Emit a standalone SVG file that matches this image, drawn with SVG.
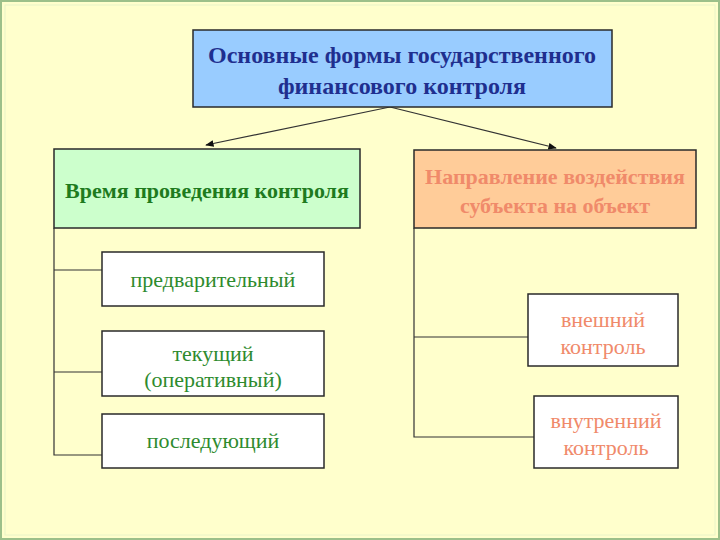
<svg xmlns="http://www.w3.org/2000/svg" width="720" height="540" viewBox="0 0 720 540">
<defs>
<style>
.t{font-family:"Liberation Serif","Times New Roman",serif;text-anchor:middle}
.box{stroke:#2a2a2a;stroke-width:1.5}
.ln{stroke:#333;stroke-width:1.2;fill:none}
.g{fill:#2E8B2E;font-size:22px}
.o{fill:#F08A6A;font-size:22px}
</style>
<marker id="ah" viewBox="0 0 10 10" refX="9" refY="5" markerWidth="7" markerHeight="7" orient="auto"><path d="M0,1 L10,5 L0,9 z" fill="#111"/></marker>
</defs>
<rect x="0" y="0" width="720" height="540" fill="#FFFFCC"/>
<rect x="1" y="1" width="718" height="538" fill="none" stroke="#9CC08A" stroke-width="2"/>
<rect x="5" y="5" width="710" height="530" fill="none" stroke="#E8F4C8" stroke-width="1"/>
<g id="connectors">
<line class="ln" x1="390" y1="107" x2="206" y2="145" marker-end="url(#ah)"/>
<line class="ln" x1="390" y1="107" x2="556" y2="148" marker-end="url(#ah)"/>
<polyline class="ln" points="54,228 54,455 102,455"/>
<line class="ln" x1="54" y1="270" x2="102" y2="270"/>
<line class="ln" x1="54" y1="372" x2="102" y2="372"/>
<polyline class="ln" points="414,228 414,437 534,437"/>
<line class="ln" x1="414" y1="337" x2="528" y2="337"/>
</g>
<g id="root">
<rect class="box" x="193" y="30" width="419" height="77" fill="#99CCFF"/>
<text class="t" x="402" y="63" font-size="24" font-weight="bold" fill="#1F2F8F">Основные формы государственного</text>
<text class="t" x="402" y="94" font-size="24" font-weight="bold" fill="#1F2F8F">финансового контроля</text>
</g>
<g id="time">
<rect class="box" x="54" y="149" width="306" height="79" fill="#CCFFCC"/>
<text class="t" x="207" y="198" font-size="22" font-weight="bold" fill="#1E7B1E">Время проведения контроля</text>
</g>
<g id="direction">
<rect class="box" x="414" y="150" width="282" height="78" fill="#FFCC99"/>
<text class="t" x="555" y="184" font-size="22" font-weight="bold" fill="#F08A6A">Направление воздействия</text>
<text class="t" x="555" y="213" font-size="22" font-weight="bold" fill="#F08A6A">субъекта на объект</text>
</g>
<g id="prelim">
<rect class="box" x="102" y="252" width="222" height="54" fill="#FFFFFF"/>
<text class="t g" x="213" y="287">предварительный</text>
</g>
<g id="current">
<rect class="box" x="102" y="331" width="222" height="65" fill="#FFFFFF"/>
<text class="t g" x="213" y="361">текущий</text>
<text class="t g" x="213" y="387">(оперативный)</text>
</g>
<g id="subsequent">
<rect class="box" x="102" y="414" width="222" height="54" fill="#FFFFFF"/>
<text class="t g" x="213" y="448">последующий</text>
</g>
<g id="external">
<rect class="box" x="528" y="294" width="150" height="72" fill="#FFFFFF"/>
<text class="t o" x="603" y="327">внешний</text>
<text class="t o" x="603" y="354">контроль</text>
</g>
<g id="internal">
<rect class="box" x="534" y="396" width="144" height="72" fill="#FFFFFF"/>
<text class="t o" x="606" y="428">внутренний</text>
<text class="t o" x="606" y="455">контроль</text>
</g>
</svg>
